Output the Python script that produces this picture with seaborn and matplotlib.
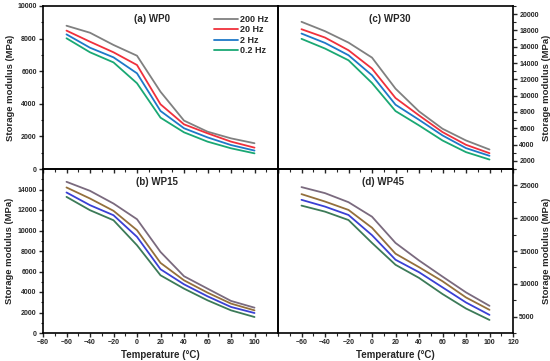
import numpy as np
import pandas as pd
import matplotlib
matplotlib.use("Agg")
import matplotlib.pyplot as plt
import seaborn as sns
from matplotlib.ticker import MultipleLocator

# temperatures (°C) and frequencies
temps = [-60, -40, -20, 0, 20, 40, 60, 80, 100]
freqs = ["200 Hz", "20 Hz", "2 Hz", "0.2 Hz"]

# storage modulus (MPa) per sample, one list per frequency
wp0_200 = [8790, 8360, 7610, 6950, 4740, 2970, 2290, 1880, 1580]
wp0_20 = [8490, 7810, 7160, 6380, 3970, 2740, 2190, 1680, 1310]
wp0_2 = [8260, 7440, 6850, 5870, 3560, 2500, 1940, 1470, 1130]
wp0_02 = [8020, 7160, 6540, 5260, 3150, 2250, 1680, 1270, 960]

wp15_200 = [14750, 13870, 12630, 11100, 7910, 5540, 4330, 3130, 2470]
wp15_20 = [14200, 13120, 11920, 10030, 6840, 5140, 3940, 2870, 2210]
wp15_2 = [13710, 12470, 11490, 9380, 6220, 4750, 3580, 2540, 1950]
wp15_02 = [13280, 11980, 11000, 8560, 5630, 4330, 3190, 2210, 1560]

wp30_200 = [19060, 17910, 16510, 14670, 10860, 8070, 5940, 4500, 3390]
wp30_20 = [18150, 17130, 15570, 13320, 9710, 7580, 5530, 3970, 2940]
wp30_2 = [17620, 16470, 14960, 12500, 8890, 7040, 5120, 3560, 2620]
wp30_02 = [16970, 15780, 14340, 11550, 8110, 6350, 4500, 3070, 2160]

wp45_200 = [24740, 23820, 22440, 20230, 16230, 13560, 11100, 8690, 6640]
wp45_20 = [23670, 22540, 21260, 18540, 14590, 12540, 10390, 7920, 6030]
wp45_2 = [22800, 21770, 20490, 17410, 13670, 11770, 9460, 7150, 5260]
wp45_02 = [21920, 21000, 19720, 16230, 12900, 10900, 8440, 6230, 4490]

panel_titles = ["(a) WP0", "(c) WP30", "(b) WP15", "(d) WP45"]


def long_form(series):
    rows = []
    for f, vals in zip(freqs, series):
        for t, v in zip(temps, vals):
            rows.append({"Temperature": t, "Modulus": v, "Frequency": f})
    return pd.DataFrame(rows)


data = [
    long_form([wp0_200, wp0_20, wp0_2, wp0_02]),
    long_form([wp30_200, wp30_20, wp30_2, wp30_02]),
    long_form([wp15_200, wp15_20, wp15_2, wp15_02]),
    long_form([wp45_200, wp45_20, wp45_2, wp45_02]),
]

top_colors = ["#808080", "#f0303c", "#1e78c8", "#1aa874"]
bottom_colors = ["#7a6a7e", "#94703c", "#3a40d4", "#3c7a58"]

sns.set_theme(style="ticks")
plt.rcParams["font.family"] = ["Liberation Sans", "DejaVu Sans"]
plt.rcParams["font.weight"] = "bold"

fig = plt.figure(figsize=(5.5, 3.61), dpi=100)
L, M, R = 43 / 550, 278 / 550, 513 / 550
T, C, B = 1 - 6 / 361, 1 - 169 / 361, 1 - 333 / 361

axes = [
    fig.add_axes([L, C, M - L, T - C]),
    fig.add_axes([M, C, R - M, T - C]),
    fig.add_axes([L, B, M - L, C - B]),
    fig.add_axes([M, B, R - M, C - B]),
]

ylims = [(0, 10000), (1000, 21000), (0, 16000), (2500, 27500)]
ymajor = [2000, 2000, 2000, 5000]
title_x = [0.464, 0.475, 0.485, 0.445]

for i, ax in enumerate(axes):
    ax.patch.set_alpha(0)
    pal = top_colors if i < 2 else bottom_colors
    sns.lineplot(data=data[i], x="Temperature", y="Modulus", hue="Frequency",
                 hue_order=freqs, palette=pal, linewidth=1.3, ax=ax,
                 legend=(i == 0))
    ax.set_xlim(-80, 120)
    ax.set_ylim(*ylims[i])
    ax.xaxis.set_major_locator(MultipleLocator(20))
    ax.xaxis.set_minor_locator(MultipleLocator(10))
    ax.yaxis.set_major_locator(MultipleLocator(ymajor[i]))
    ax.yaxis.set_minor_locator(MultipleLocator(ymajor[i] / 2))
    ax.tick_params(which="major", direction="out", length=3, width=1,
                   labelsize=5, pad=1.5)
    ax.tick_params(which="minor", direction="out", length=1.8, width=0.8)
    for s in ax.spines.values():
        s.set_linewidth(1.2)
        s.set_color("black")
    ax.text(title_x[i], 0.92, panel_titles[i], transform=ax.transAxes,
            ha="center", va="center", fontsize=7, fontweight="bold")

    if i % 2 == 1:
        ax.yaxis.tick_right()
        ax.yaxis.set_label_position("right")
    ax.set_ylabel("Storage modulus (MPa)", fontsize=6.8, fontweight="bold",
                  labelpad=2)
    if i < 2:
        ax.tick_params(axis="x", labelbottom=False)
        ax.set_xlabel("")
    else:
        ax.set_xlabel("Temperature (°C)", fontsize=7, fontweight="bold",
                      labelpad=3)

# hide overlapping tick labels at the shared borders
axes[2].set_xticks(np.arange(-80, 101, 20))
axes[3].set_xticks(np.arange(-60, 121, 20))
axes[2].set_yticks(np.arange(0, 14001, 2000))
axes[1].set_yticks(np.arange(2000, 20001, 2000))
axes[3].set_yticks(np.arange(5000, 25001, 5000))

leg = axes[0].legend(loc="upper right", frameon=False, fontsize=6.5,
                     handlelength=2.6, handletextpad=0.3, labelspacing=0.15,
                     borderaxespad=0.6)
for t in leg.get_texts():
    t.set_fontweight("bold")
for line in leg.get_lines():
    line.set_linewidth(1.3)

fig.savefig("out.png", dpi=100)
